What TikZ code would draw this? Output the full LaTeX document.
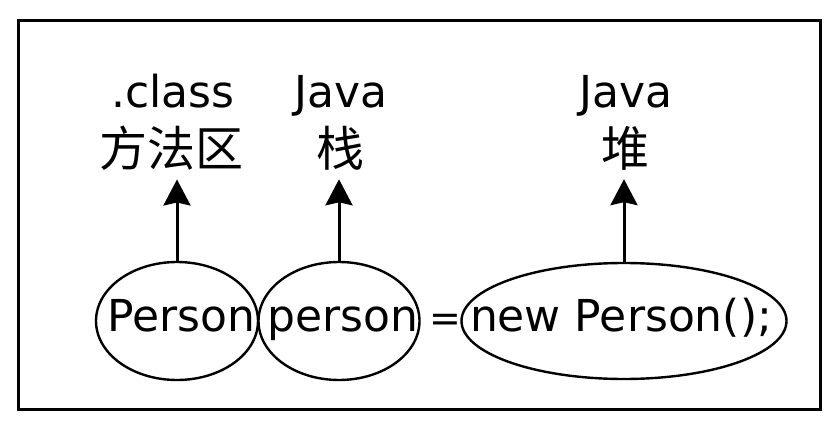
\documentclass[tikz,border=0pt]{standalone}
\usepackage{fontspec}
\setmainfont{DejaVu Sans}
\newfontfamily\cjk{Noto Sans CJK SC}
\usetikzlibrary{arrows.meta, positioning, shapes.geometric}
\tikzset{
    ell/.style={draw, ellipse, line width=2.4pt, inner sep=0pt},
    code/.style={font=\fontsize{44}{44}\selectfont, inner sep=0pt, anchor=base},
    lbl/.style={font=\fontsize{44}{44}\selectfont, inner sep=0pt, anchor=base},
    zh/.style={font=\cjk\fontsize{48}{48}\selectfont, inner sep=0pt},
    arr/.style={-{Stealth[length=26pt, width=27pt, inset=3pt]}, line width=3pt, shorten >=9pt}
}
\begin{document}
\begin{tikzpicture}[x=1pt, y=-1pt]
    \useasboundingbox (0,0) rectangle (836,425);
    \draw[line width=3pt] (18,21) rectangle (820,409);
    % the statement, split into its parts
    \node[ell, minimum width=162pt, minimum height=118pt] (cls) at (177,321) {};
    \node[ell, minimum width=161pt, minimum height=118pt] (ref) at (339,321) {};
    \node[ell, minimum width=325pt, minimum height=116pt] (obj) at (624,321) {};
    \node[code] (clsTxt) at (181,331) {Person};
    \node[code] (refTxt) at (343,331) {person};
    \node[code, font=\fontsize{38}{38}\selectfont] (eq) at (445,331) {=};
    \node[code] (objTxt) at (621,331) {new Person();};
    % where each part lives
    \node[lbl] (clsTop) at (173,108) {.class};
    \node[zh] (clsBot) at (171,148) {方法区};
    \node[lbl] (refTop) at (341,108) {Java};
    \node[zh] (refBot) at (340,148) {栈};
    \node[lbl] (objTop) at (626,108) {Java};
    \node[zh] (objBot) at (625,148) {堆};
    \draw[arr] (cls.north) -- (cls.north |- clsBot.south);
    \draw[arr] (ref.north) -- (ref.north |- refBot.south);
    \draw[arr] (obj.north) -- (obj.north |- objBot.south);
\end{tikzpicture}
\end{document}
